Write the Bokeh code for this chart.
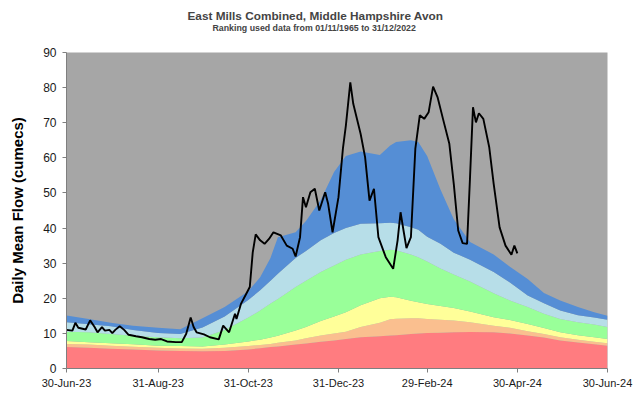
import pandas as pd
from bokeh.plotting import figure
from bokeh.models import (ColumnDataSource, Range1d, FixedTicker, SingleIntervalTicker,
                          DatetimeTickFormatter, Title)
from bokeh.embed import file_html
from bokeh.resources import INLINE

FONT = "Liberation Sans"
START = "2023-06-30"

# ---- data -------------------------------------------------------------
# Days after 30 Jun 2023 at which the ranking thresholds are sampled
band_day = [0, 15, 30, 45, 62, 77, 92, 107, 123, 131, 138, 143, 155, 162, 172,
            181, 189, 199, 212, 219, 223, 233, 238, 244, 253, 262, 273, 289, 300,
            312, 323, 334, 346, 357, 366]

# Upper limit (cumecs) of each flow band, lowest band first
exceptionally_low = [6.1, 5.9, 5.6, 5.4, 5.1, 5.0, 4.9, 5.0, 5.4, 5.8, 6.1, 6.3, 6.8,
                     7.1, 7.6, 8.0, 8.4, 8.9, 9.2, 9.4, 9.5, 9.8, 10.0, 10.1, 10.2,
                     10.3, 10.4, 10.3, 10.0, 9.4, 8.8, 8.0, 7.4, 6.9, 6.5]
notably_low = [7.0, 6.8, 6.5, 6.2, 5.9, 5.7, 5.6, 5.9, 6.4, 6.7, 7.0, 7.3, 8.0, 8.6,
               9.4, 10.0, 10.5, 11.8, 13.0, 14.0, 14.2, 14.3, 14.3, 14.1, 13.9, 13.7,
               13.2, 12.2, 11.6, 10.6, 9.8, 8.9, 8.2, 7.6, 7.2]
below_normal = [7.8, 7.5, 7.2, 6.9, 6.5, 6.4, 6.3, 6.8, 7.7, 8.2, 8.8, 9.3, 10.8, 11.8,
                13.5, 14.8, 16.0, 18.0, 20.0, 20.4, 20.3, 19.3, 18.9, 18.4, 17.8, 17.2,
                16.2, 14.6, 13.8, 12.7, 11.5, 10.3, 9.5, 8.9, 8.4]
normal = [10.5, 10.3, 9.8, 9.3, 8.9, 8.6, 8.8, 11.0, 14.5, 16.5, 18.5, 19.8, 23.2, 25.0,
          27.5, 29.3, 31.0, 32.5, 33.5, 33.8, 33.7, 32.5, 31.7, 30.5, 28.5, 26.8, 24.8,
          21.4, 19.4, 17.5, 15.6, 14.1, 13.2, 12.5, 11.8]
above_normal = [13.2, 12.6, 12.0, 11.0, 10.1, 9.8, 11.7, 14.8, 19.5, 22.3, 25.0, 27.0,
                31.5, 33.5, 36.5, 38.6, 40.0, 41.2, 41.4, 41.5, 41.4, 40.2, 39.5, 37.5,
                35.5, 33.0, 31.0, 27.5, 24.5, 20.8, 18.6, 16.5, 15.2, 14.5, 13.9]
notably_high = [15.1, 14.1, 13.0, 12.2, 11.6, 11.2, 14.3, 17.5, 22.0, 26.0, 31.5, 37.4,
                38.8, 42.0, 48.0, 56.0, 60.5, 61.8, 60.8, 63.5, 64.5, 65.0, 64.5, 60.5,
                51.0, 42.5, 36.0, 32.5, 29.0, 25.5, 21.5, 19.4, 17.5, 16.0, 15.0]

# Observed daily mean flow at East Mills (days after 30 Jun 2023, cumecs)
flow_day = [0, 4, 6, 8, 13, 16, 19, 21, 24, 26, 29, 31, 33, 36, 39, 42, 47, 51, 56, 60,
            64, 68, 74, 78, 81, 84, 86, 88, 93, 97, 103, 106, 110, 114, 115, 118, 121,
            124, 126, 128, 131, 134, 137, 140, 145, 149, 153, 155, 158, 160, 162, 165,
            168, 171, 175, 177, 180, 184, 187, 189, 192, 194, 199, 202, 205, 208, 211,
            216, 221, 224, 226, 228, 230, 233, 236, 239, 242, 245, 248, 251, 255, 259,
            262, 265, 268, 271, 273, 275, 277, 279, 282, 286, 289, 293, 297, 301, 303,
            305]
flow_cumecs = [11.0, 10.8, 13.0, 11.6, 11.1, 13.7, 11.8, 10.3, 11.8, 10.8, 11.0, 10.1,
               11.0, 12.0, 11.0, 9.6, 9.2, 8.9, 8.4, 8.2, 8.4, 7.7, 7.5, 7.5, 9.9, 14.5,
               11.8, 10.3, 9.7, 8.9, 8.3, 12.2, 10.3, 15.6, 14.1, 18.4, 20.8, 23.2, 33.1,
               38.2, 36.5, 35.5, 36.9, 38.8, 37.9, 35.0, 34.1, 31.9, 37.4, 48.8, 45.9,
               50.2, 51.2, 45.0, 50.2, 46.9, 38.8, 48.8, 62.6, 69.2, 81.5, 75.4, 66.8,
               60.2, 47.8, 51.2, 37.4, 31.7, 28.4, 36.5, 44.5, 39.3, 34.3, 37.4, 62.6,
               72.1, 71.1, 73.0, 80.3, 77.3, 70.6, 64.0, 52.6, 39.3, 35.7, 35.5, 54.5,
               74.4, 70.1, 72.7, 71.1, 63.0, 52.6, 40.2, 35.0, 32.4, 35.0, 32.8]

tick_dates = ["2023-06-30", "2023-08-31", "2023-10-31", "2023-12-31",
              "2024-02-29", "2024-04-30", "2024-06-30"]

band_colors = ["#FF7C80", "#FABF8F", "#FFFF99", "#99FF99", "#B7DEE8", "#558ED5"]

# ---- build sources ----------------------------------------------------
start = pd.Timestamp(START)
band_dates = start + pd.to_timedelta(band_day, unit="D")
flow_dates = start + pd.to_timedelta(flow_day, unit="D")

bands = ColumnDataSource(dict(
    date=band_dates,
    zero=[0.0] * len(band_day),
    b1=exceptionally_low, b2=notably_low, b3=below_normal,
    b4=normal, b5=above_normal, b6=notably_high,
))
flow = ColumnDataSource(dict(date=flow_dates, q=flow_cumecs))

ticks_ms = [pd.Timestamp(d).value // 10**6 for d in tick_dates]

p = figure(width=636, height=396, x_axis_type="datetime",
           x_range=Range1d(ticks_ms[0], ticks_ms[-1]), y_range=Range1d(0, 90),
           output_backend="svg", toolbar_location=None, title=None,
           min_border_left=66, min_border_right=29, min_border_top=52,
           min_border_bottom=28)

p.background_fill_color = "#A6A6A6"
p.border_fill_color = "white"
p.outline_line_color = None
p.xgrid.visible = False
p.ygrid.visible = False

# stacked flow-ranking bands
levels = ["zero", "b1", "b2", "b3", "b4", "b5", "b6"]
for lo, hi, col in zip(levels[:-1], levels[1:], band_colors):
    p.varea(x="date", y1=lo, y2=hi, source=bands, fill_color=col, fill_alpha=1.0)

p.line(x="date", y="q", source=flow, line_color="black", line_width=1.9)

# axes
p.xaxis.ticker = FixedTicker(ticks=ticks_ms)
fmt = "%d-%b-%y"
p.xaxis.formatter = DatetimeTickFormatter(
    microseconds=fmt, milliseconds=fmt, seconds=fmt, minsec=fmt, minutes=fmt,
    hourmin=fmt, hours=fmt, days=fmt, months=fmt, years=fmt)
p.yaxis.ticker = SingleIntervalTicker(interval=10)

for ax in (p.xaxis, p.yaxis):
    ax.axis_line_color = "#7F7F7F"
    ax.major_tick_line_color = "#7F7F7F"
    ax.major_tick_out = 4
    ax.major_tick_in = 0
    ax.minor_tick_line_color = None
    ax.major_label_text_font = FONT
    ax.major_label_text_color = "#1A1A1A"

p.xaxis.major_label_text_font_size = "11px"
p.xaxis.major_label_standoff = 4
p.yaxis.major_label_text_font_size = "12px"
p.yaxis.major_label_standoff = 6

p.yaxis.axis_label = "Daily Mean Flow (cumecs)"
p.yaxis.axis_label_text_font = FONT
p.yaxis.axis_label_text_font_size = "15px"
p.yaxis.axis_label_text_font_style = "bold"
p.yaxis.axis_label_text_color = "black"
p.yaxis.axis_label_standoff = 14

# heading: a thin spacer next to the plot, then the subtitle, then the title
p.add_layout(Title(text=" ", text_font_size="1px", standoff=19), "above")
p.add_layout(Title(text="Ranking used data from 01/11/1965 to 31/12/2022",
                   text_font=FONT, text_font_size="8.8px", text_font_style="bold",
                   align="left", offset=146, standoff=-4), "above")
p.add_layout(Title(text="East Mills Combined, Middle Hampshire Avon",
                   text_font=FONT, text_font_size="11.8px", text_font_style="bold",
                   align="left", offset=121, standoff=0), "above")

open("out.html", "w").write(file_html(p, INLINE))
